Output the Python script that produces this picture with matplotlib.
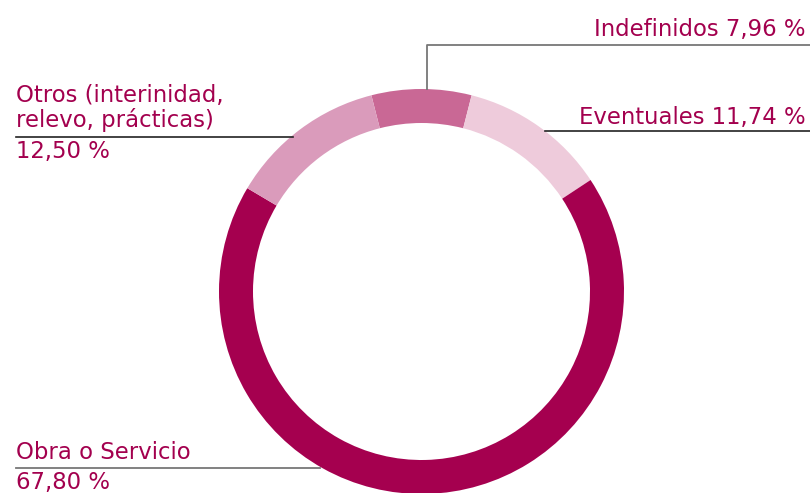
import matplotlib
matplotlib.use("Agg")
import matplotlib.pyplot as plt

# Data (clockwise from top)
categories = ["Indefinidos", "Eventuales", "Obra o Servicio", "Otros (interinidad, relevo, prácticas)"]
values = [7.96, 11.74, 67.80, 12.50]
value_labels = ["7,96 %", "11,74 %", "67,80 %", "12,50 %"]
colors = ["#C96895", "#EECBDB", "#A5004F", "#DA9BBB"]

W, H = 810, 493
TEXT = "#A3004E"
FONT = "DejaVu Sans"
FS = 16.4

fig = plt.figure(figsize=(W / 100, H / 100), dpi=100)
ax = fig.add_axes([0, 0, 1, 1])

cx, cy = 421.5, H - 291.5
R = 202.5
ring = 34
start = 90 + values[0] / 100 * 360 / 2
ax.pie(values, colors=colors, radius=R, center=(cx, cy), startangle=start,
       counterclock=False, wedgeprops=dict(width=ring, linewidth=0))

ax.set_xlim(0, W)
ax.set_ylim(0, H)
ax.set_aspect("auto")
ax.axis("off")

def Y(y):
    return H - y

# Indefinidos
ax.plot([427, 427, 810], [Y(90), Y(44.5), Y(44.5)], color="#777777", lw=1.3, solid_capstyle="butt")
ax.text(806, Y(36), f"{categories[0]} {value_labels[0]}", ha="right", va="baseline",
        color=TEXT, fontsize=FS, family=FONT)

# Eventuales
ax.plot([545, 810], [Y(131), Y(131)], color="#222222", lw=1.2)
ax.text(806, Y(124), f"{categories[1]} {value_labels[1]}", ha="right", va="baseline",
        color=TEXT, fontsize=FS, family=FONT)

# Otros
ax.plot([16, 293], [Y(137), Y(137)], color="#222222", lw=1.2)
ax.text(16, Y(102), "Otros (interinidad,", ha="left", va="baseline",
        color=TEXT, fontsize=FS, family=FONT)
ax.text(16, Y(126.5), "relevo, prácticas)", ha="left", va="baseline",
        color=TEXT, fontsize=FS, family=FONT)
ax.text(16, Y(158), value_labels[3], ha="left", va="baseline",
        color=TEXT, fontsize=FS, family=FONT)

# Obra o Servicio
ax.plot([16, 320], [Y(468), Y(468)], color="#777777", lw=1.3)
ax.text(16, Y(459), categories[2], ha="left", va="baseline",
        color=TEXT, fontsize=FS, family=FONT)
ax.text(16, Y(489), value_labels[2], ha="left", va="baseline",
        color=TEXT, fontsize=FS, family=FONT)

fig.savefig("out.png", dpi=100)
